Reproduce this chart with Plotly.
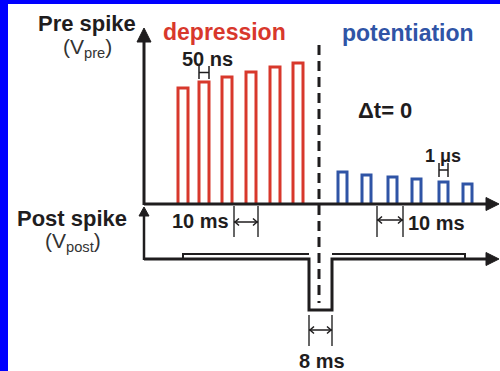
import plotly.graph_objects as go

# ---- data (schematic units: x = time axis, y = screen-down voltage axis) ----
# depression pre-spike train: pulse onsets and amplitudes
red_onsets = [178, 199, 222, 246, 270, 293]
red_heights = [116, 122, 127, 132, 137, 141]
# potentiation pre-spike train
blue_onsets = [338, 362, 388, 412, 439, 463]
blue_heights = [32, 29, 27, 25, 22, 20]
# post-spike waveform: plateau edges, notch edges, levels
post_plateau = [183, 465]
post_notch = [309, 332]
post_plateau_level = 5
post_notch_level = -51
# period markers (10 ms) on each train
pre_period_marks = [234, 258]
post_period_marks = [377, 403]
# coincidence time (dashed line)
t_zero = 319

# ---- layout constants ----
W, H = 500, 371
RED = "#d8382c"
BLUE = "#2f54a6"
INK = "#1f1d1e"
FONT = "Liberation Sans"
AX_X = 144          # vertical axes position
PRE_BASE = 204      # pre-spike baseline
POST_BASE = 259     # post-spike baseline
AX_END = 499        # arrow tips of horizontal axes
RED_W = 10
BLUE_W = 9

fig = go.Figure()


def pulse_train(onsets, heights, width, base):
    xs, ys = [], []
    for t, h in zip(onsets, heights):
        xs += [t, t, t + width, t + width, None]
        ys += [base, base - h, base - h, base, None]
    return xs, ys


def line(xs, ys, color=INK, width=3, dash=None):
    fig.add_trace(go.Scatter(x=xs, y=ys, mode="lines", hoverinfo="skip",
                             line=dict(color=color, width=width, dash=dash)))


def tri(xs, ys):
    fig.add_trace(go.Scatter(x=xs, y=ys, mode="lines", fill="toself",
                             fillcolor=INK, hoverinfo="skip",
                             line=dict(color=INK, width=1)))


# pre-spike trains
x, y = pulse_train(red_onsets, red_heights, RED_W, PRE_BASE)
line(x, y, RED, 3)
x, y = pulse_train(blue_onsets, blue_heights, BLUE_W, PRE_BASE)
line(x, y, BLUE, 3)

# pre axes
line([AX_X, AX_X], [PRE_BASE + 1, 40])
tri([AX_X - 7, AX_X, AX_X + 7, AX_X - 7], [42, 28, 42, 42])
line([AX_X, AX_END - 10], [PRE_BASE, PRE_BASE])
tri([AX_END - 13, AX_END, AX_END - 13, AX_END - 13],
    [PRE_BASE - 6.5, PRE_BASE, PRE_BASE + 6.5, PRE_BASE - 6.5])

# post waveform: baseline with negative notch
n0, n1 = post_notch
line([AX_X, n0, n0, n1, n1, AX_END - 10],
     [POST_BASE, POST_BASE, POST_BASE - post_notch_level,
      POST_BASE - post_notch_level, POST_BASE, POST_BASE], width=3)
# small positive plateau riding on the baseline
p0, p1 = post_plateau
line([p0, p0, n0, None, n1, p1, p1],
     [POST_BASE, POST_BASE - post_plateau_level, POST_BASE - post_plateau_level, None,
      POST_BASE - post_plateau_level, POST_BASE - post_plateau_level, POST_BASE], width=2)
# post axes
line([AX_X, AX_X], [POST_BASE + 1, 214], width=2.5)
tri([AX_X - 5, AX_X, AX_X + 5, AX_X - 5], [216, 207, 216, 216])
tri([AX_END - 13, AX_END, AX_END - 13, AX_END - 13],
    [POST_BASE - 6.5, POST_BASE, POST_BASE + 6.5, POST_BASE - 6.5])

# dashed line at the coincidence time
line([t_zero, t_zero], [45, 303], width=3, dash="10px,6px")


# dimension markers
def h_bracket(a, b, y0, y1):
    ym = (y0 + y1) / 2
    line([a, a, None, b, b, None, a, b], [y0, y1, None, y0, y1, None, ym, ym],
         width=1.5)


def span_arrow(a, b, y_top, y_bot, ya):
    line([a, a, None, b, b], [y_top, y_bot, None, y_top, y_bot], width=1.5,
         color="#333333")
    line([a, b], [ya, ya], width=1.5)
    line([a + 5, a + 1, a + 5, None, b - 5, b - 1, b - 5],
         [ya - 3.5, ya, ya + 3.5, None, ya - 3.5, ya, ya + 3.5], width=1.5)


h_bracket(red_onsets[1], red_onsets[1] + RED_W, 66, 79)
h_bracket(blue_onsets[4], blue_onsets[4] + BLUE_W, 163, 177)
span_arrow(pre_period_marks[0], pre_period_marks[1], 206, 237, 222)
span_arrow(post_period_marks[0], post_period_marks[1], 206, 237, 220)
span_arrow(n0, n1, 315, 346, 330)

# blue frame strips
fig.add_shape(type="rect", x0=0, x1=W, y0=0, y1=4, fillcolor="#0000ff",
              line_width=0, layer="above")
fig.add_shape(type="rect", x0=0, x1=8, y0=0, y1=H, fillcolor="#0000ff",
              line_width=0, layer="above")


def label(text, x, y, size, color=INK):
    fig.add_annotation(x=x, y=y, text=text, showarrow=False,
                       xanchor="center", yanchor="middle",
                       font=dict(family=FONT, size=size, color=color))


label("<b>Pre spike</b>", 87, 23, 22)
label("(V<sub>pre</sub>)", 87, 48, 21, "#333333")
label("<b>depression</b>", 224, 32, 23, RED)
label("<b>potentiation</b>", 408, 33, 23, BLUE)
label("<b>50 ns</b>", 207, 59, 20)
label("<b>Δt= 0</b>", 385, 110, 22)
label("<b>1 μs</b>", 443, 156, 18)
label("<b>Post spike</b>", 72, 218, 22)
label("(V<sub>post</sub>)", 73, 242, 21, "#333333")
label("<b>10 ms</b>", 200, 221, 20)
label("<b>10 ms</b>", 436, 223, 20)
label("<b>8 ms</b>", 322, 361, 20)

fig.update_layout(
    width=W, height=H, autosize=False,
    margin=dict(l=0, r=0, t=0, b=0),
    paper_bgcolor="white", plot_bgcolor="white",
    showlegend=False,
    xaxis=dict(range=[0, W], visible=False, fixedrange=True),
    yaxis=dict(range=[H, 0], visible=False, fixedrange=True),
)

fig.write_html("out.html", config={"displayModeBar": False, "staticPlot": True})
